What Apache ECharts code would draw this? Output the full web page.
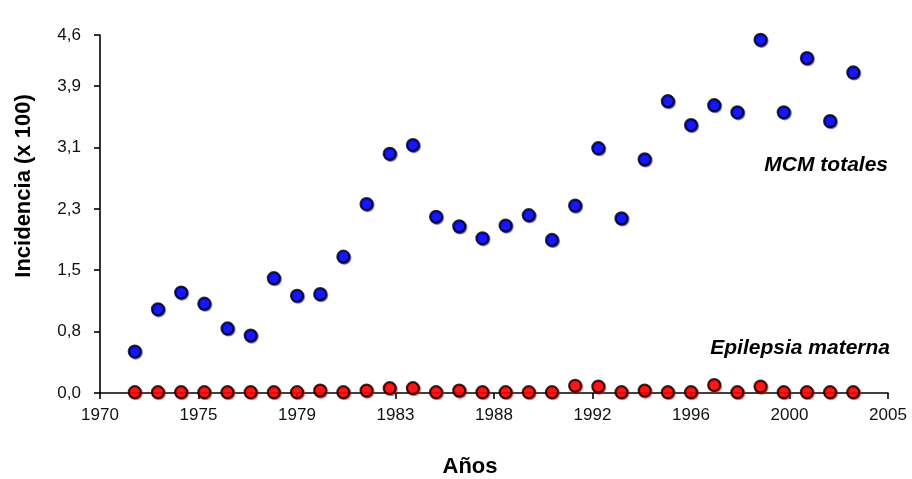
<!DOCTYPE html>
<html>
<head>
<meta charset="utf-8">
<script src="https://cdn.jsdelivr.net/npm/echarts@6/dist/echarts.min.js"></script>
<style>
html,body{margin:0;padding:0;background:#fff;}
#chart{width:912px;height:479px;}
</style>
</head>
<body>
<div id="chart"></div>
<script>
// ---- data ----
const years = [1972,1973,1974,1975,1976,1977,1978,1979,1980,1981,1982,1983,1984,1985,1986,1987,
               1988,1989,1990,1991,1992,1993,1994,1995,1996,1997,1998,1999,2000,2001,2002,2003];
const mcmTotales = [0.52,1.05,1.26,1.12,0.81,0.72,1.44,1.22,1.24,1.71,2.37,3.00,3.11,2.21,2.09,1.94,
                    2.10,2.23,1.92,2.35,3.07,2.19,2.93,3.66,3.36,3.61,3.52,4.43,3.52,4.20,3.41,4.02];
const epilepsiaMaterna = [0.01,0.01,0.01,0.01,0.01,0.01,0.01,0.01,0.03,0.01,0.03,0.06,0.06,0.01,0.03,0.01,
                          0.01,0.01,0.01,0.09,0.08,0.01,0.03,0.01,0.01,0.10,0.01,0.08,0.01,0.01,0.01,0.01];
const xTickLabels = ["1970","1975","1979","1983","1988","1992","1996","2000","2005"];
const yTickLabels = ["0,0","0,8","1,5","2,3","3,1","3,9","4,6"];
const seriesNames = ["MCM totales","Epilepsia materna"];
const axisTitles = {x:"Años", y:"Incidencia (x 100)"};

const FONT = "'Liberation Sans', Arial, sans-serif";
const yInterval = 0.77;

const chart = echarts.init(document.getElementById('chart'), null, {renderer:'canvas'});

function pts(xs, ys){ return xs.map((x,i)=>[x, ys[i]]); }

const option = {
  backgroundColor:'#ffffff',
  animation:false,
  grid:{left:100, right:24, top:35, bottom:86, containLabel:false},
  xAxis:[
    { // data axis (hidden)
      type:'value', min:1970.5, max:2004.5, show:false, splitLine:{show:false}
    },
    { // labelled tick axis
      type:'value', min:0, max:8, interval:1, position:'bottom',
      axisLine:{show:true, onZero:false, lineStyle:{color:'#000', width:1.6}},
      axisTick:{show:true, length:6, lineStyle:{color:'#000', width:1.6}},
      splitLine:{show:false},
      axisLabel:{margin:14, color:'#111', fontFamily:FONT, fontSize:17,
        formatter:v=>xTickLabels[Math.round(v)] ?? ''}
    }
  ],
  yAxis:[{
    type:'value', min:0, max:4.49, interval:yInterval, offset:11,
    axisLine:{show:true, lineStyle:{color:'#000', width:1.6}},
    axisTick:{show:true, length:6, lineStyle:{color:'#000', width:1.6}},
    splitLine:{show:false},
    axisLabel:{margin:8, color:'#111', fontFamily:FONT, fontSize:17,
      formatter:v=>yTickLabels[Math.round(v/yInterval)] ?? ''}
  }],
  series:[
    {
      name:seriesNames[0], type:'scatter', xAxisIndex:0, yAxisIndex:0,
      data:pts(years, mcmTotales), symbol:'circle', symbolSize:12, z:5,
      itemStyle:{color:'#0000ff', borderColor:'#000', borderWidth:2.2,
        shadowColor:'rgba(0,0,255,0.7)', shadowOffsetX:1, shadowOffsetY:1, shadowBlur:0}
    },
    {
      name:seriesNames[1], type:'scatter', xAxisIndex:0, yAxisIndex:0,
      data:pts(years, epilepsiaMaterna), symbol:'circle', symbolSize:12, z:5,
      itemStyle:{color:'#ff0000', borderColor:'#000', borderWidth:2.2,
        shadowColor:'rgba(255,0,0,0.7)', shadowOffsetX:1, shadowOffsetY:1, shadowBlur:0}
    }
  ],
  graphic:[
    {type:'text', x:888, y:165,
      style:{text:seriesNames[0], fill:'#000', font:"italic bold 21px "+FONT, align:'right', verticalAlign:'middle'}},
    {type:'text', x:890, y:348,
      style:{text:seriesNames[1], fill:'#000', font:"italic bold 21px "+FONT, align:'right', verticalAlign:'middle'}},
    {type:'text', x:470, y:467,
      style:{text:axisTitles.x, fill:'#000', font:"bold 22px "+FONT, align:'center', verticalAlign:'middle'}},
    {type:'text', x:24, y:186, rotation:Math.PI/2,
      style:{text:axisTitles.y, fill:'#000', font:"bold 22px "+FONT, align:'center', verticalAlign:'middle'}}
  ]
};
chart.setOption(option);
</script>
</body>
</html>
